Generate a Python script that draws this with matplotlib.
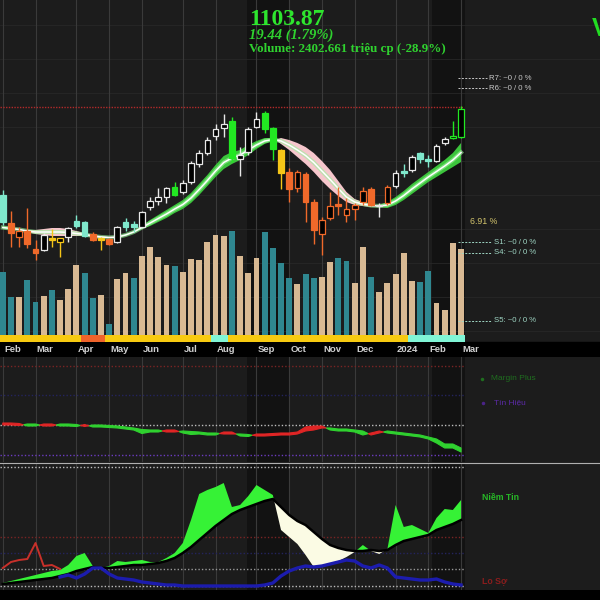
import numpy as np
import matplotlib.pyplot as plt
from matplotlib.patches import Rectangle
from matplotlib.transforms import blended_transform_factory

plt.rcParams['font.family'] = ['Liberation Sans', 'DejaVu Sans']

BG = '#1c1c1c'

# weekly bars Feb 2023 -> Mar 2024
open_p = [1018, 990, 976, 982, 964, 963, 975, 971, 976, 992,
          991, 979, 975, 974, 971, 991, 989, 986, 1006, 1012,
          1016, 1026, 1021, 1031, 1049, 1060, 1077, 1085, 1092, 1054,
          1061, 1086, 1100, 1085, 1063, 1041, 1025, 1039, 1011, 979,
          995, 1009, 998, 1004, 1011, 1024, 1007, 1010, 1027, 1042,
          1043, 1060, 1054, 1052, 1070, 1075, 1076]
high_p = [1023, 1002, 986, 1005, 973, 980, 984, 975, 986, 998,
          992, 981, 976, 975, 987, 995, 992, 1002, 1016, 1025,
          1026, 1031, 1033, 1052, 1063, 1076, 1089, 1099, 1096, 1066,
          1086, 1101, 1102, 1086, 1064, 1045, 1043, 1041, 1014, 996,
          1021, 1026, 1015, 1010, 1026, 1026, 1010, 1028, 1043, 1049,
          1058, 1061, 1058, 1069, 1076, 1092, 1107]
low_p = [988, 966, 966, 965, 953, 962, 966, 956, 971, 985,
         976, 972, 963, 968, 970, 982, 981, 985, 1003, 1008,
         1010, 1017, 1019, 1029, 1046, 1058, 1073, 1076, 1051, 1037,
         1058, 1085, 1080, 1053, 1024, 1011, 1021, 991, 969, 958,
         993, 998, 991, 993, 1008, 1007, 996, 1008, 1025, 1036,
         1041, 1050, 1046, 1051, 1068, 1074, 1075]
close_p = [991, 980, 982, 969, 960, 978, 973, 975, 985, 987,
           977, 973, 973, 969, 986, 986, 986, 1001, 1012, 1016,
           1025, 1018, 1030, 1050, 1060, 1073, 1084, 1089, 1055, 1058,
           1084, 1094, 1084, 1064, 1040, 1024, 1041, 1011, 983, 993,
           1007, 1007, 1004, 1008, 1022, 1008, 1008, 1026, 1040, 1040,
           1056, 1054, 1052, 1067, 1074, 1077, 1103.87]
candle_state = ['A', 'O', 'HO', 'O', 'O', 'H', 'Y', 'HY', 'H', 'A',
                'A', 'O', 'Y', 'O', 'H', 'A', 'A', 'H', 'H', 'H',
                'H', 'G', 'H', 'H', 'H', 'H', 'H', 'H', 'G', 'H',
                'H', 'H', 'G', 'G', 'Y', 'O', 'HO', 'O', 'O', 'HO',
                'HO', 'O', 'HO', 'HO', 'HO', 'O', 'H', 'HO', 'H', 'A',
                'H', 'A', 'A', 'H', 'H', 'HG', 'HG']

fast_ma = [987, 986, 984, 981, 979, 978, 977, 977, 977, 977,
           977, 976, 975, 975, 977, 979, 982, 987, 993, 998,
           1003, 1008, 1013, 1020, 1029, 1038, 1048, 1057, 1061, 1063,
           1068, 1072, 1075, 1075, 1069, 1063, 1056, 1049, 1041, 1032,
           1024, 1017, 1011, 1008, 1007, 1006, 1008, 1011, 1016, 1022,
           1029, 1035, 1041, 1047, 1053, 1060, 1070]
slow_ma = [984, 983, 983, 983, 983, 984, 985, 985, 984, 982,
           980, 978, 977, 976, 975, 977, 980, 984, 987, 991,
           995, 1000, 1004, 1010, 1018, 1027, 1036, 1044, 1049, 1053,
           1058, 1064, 1069, 1072, 1075, 1073, 1070, 1066, 1060, 1052,
           1043, 1032, 1021, 1014, 1011, 1009, 1006, 1005, 1008, 1013,
           1019, 1025, 1031, 1036, 1041, 1046, 1051]

# volume, million shares
volume = [1764, 1064, 1064, 1540, 924, 1092, 1260, 980, 1288, 1960,
          1736, 1036, 1120, 308, 1568, 1736, 1596, 2212, 2464, 2184,
          1960, 1932, 1764, 2128, 2100, 2604, 2800, 2772, 2912, 2212,
          1736, 2156, 2884, 2436, 2016, 1596, 1428, 1708, 1596, 1624,
          2044, 2156, 2072, 1456, 2464, 1624, 1204, 1456, 1708, 2296,
          1512, 1484, 1792, 896, 700, 2576, 2402.661]
vol_side = list("TTNTTNTNNN" "TTNTNNTNNN" "NTNNNNNNTN"
                "NNTTTTNTTN" "NTTNNTNNNN" "NTTNNNN")
trend_band = list("YYYYYYYYYY" "OOOYYYYYYY" "YYYYYYAAYY"
                  "YYYYYYYYYY" "YYYYYYYYYY" "AAAAAAA")

month_bars = [0, 4, 9, 13, 17, 22, 26, 31, 35, 39, 43, 48, 52, 56]
month_labels = ['Feb', 'Mar', 'Apr', 'May', 'Jun', 'Jul', 'Aug', 'Sep',
                'Oct', 'Nov', 'Dec', '2024', 'Feb', 'Mar']

# middle panel
margin_plus = [37, 37, 36.5, 38, 38, 36, 36, 38, 38, 37.5,
               35.5, 37, 37, 36.5, 36, 35, 34, 32.5, 32, 32,
               30, 30, 31, 30.5, 30, 29, 29, 28, 28, 28,
               27.5, 26, 26, 26.5, 27, 27, 28, 31, 32, 34,
               34, 33, 33, 32, 31, 27, 29, 31, 30, 29,
               28, 27, 25, 23, 18, 18, 14]
signal = [39, 39, 38.5, 36, 36, 38, 38, 36, 36, 35.5,
          37.5, 35, 35, 34.5, 34, 33, 32, 28.5, 30, 30,
          32, 32, 29, 27.5, 28, 27, 27, 30, 30, 26,
          25.5, 28, 28, 28.5, 29, 29, 30, 35, 36, 36,
          32, 31, 31, 30, 27, 29, 31, 29, 28, 27,
          26, 25, 23, 19, 14, 14, 10]

# bottom panel
niem_tin = [7, 9, 11, 13, 15, 17, 19, 20, 25, 34,
            37, 24, 22, 24, 29, 28, 29, 30, 28, 28,
            32, 37, 47, 70, 96, 100, 103, 107, 83, 85,
            94, 105, 100, 95, 60, 53, 46, 35, 23, 24,
            26, 29, 33, 38, 45, 39, 36, 41, 85, 63,
            65, 61, 57, 72, 81, 80, 90]
niem_tin_avg = [6, 7, 8, 9, 10, 11, 12, 14, 16, 19,
                21, 23, 22, 22, 23, 24, 25, 25, 26, 27,
                29, 32, 37, 43, 50, 57, 64, 70, 76, 80,
                83, 86, 89, 91, 83, 75, 69, 65, 58, 51,
                45, 42, 40, 39, 39, 40, 39, 40, 45, 49,
                51, 53, 55, 60, 63, 66, 70]
blue_line = [13, 15, 12, 16, 22, 22, 16, 12, 11, 10,
             8, 7, 6, 5, 5, 4, 4, 4, 4, 4,
             4, 4, 4, 4, 4, 5, 7, 14, 19, 22,
             24, 23, 24, 26, 28, 30, 29, 24, 22, 25,
             22, 13, 12, 11, 10, 10, 11, 8, 6, 5]   # from bar 7
red_line = [22, 28, 30, 31, 47, 24, 25, 21]          # bars 0..7

bars = np.arange(len(close_p))
fast_ma = np.array(fast_ma, float)
slow_ma = np.array(slow_ma, float)
margin_plus = np.array(margin_plus, float)
signal = np.array(signal, float)
niem_tin = np.array(niem_tin, float)
niem_tin_avg = np.array(niem_tin_avg, float)

x_lo, x_hi = -0.34, 72.98

fig = plt.figure(figsize=(6, 6), dpi=100)
fig.patch.set_facecolor(BG)


def clean(ax):
    ax.set_facecolor(BG)
    ax.set_xticks([])
    ax.set_yticks([])
    for s in ax.spines.values():
        s.set_visible(False)
    ax.set_xlim(x_lo, x_hi)


ax_price = fig.add_axes([0, 258 / 600, 1, 342 / 600])
ax_vol = ax_price.twinx()
ax_mid = fig.add_axes([0, 138 / 600, 1, 105 / 600])
ax_bot = fig.add_axes([0, 10 / 600, 1, 127 / 600])
for ax in (ax_price, ax_vol, ax_mid, ax_bot):
    clean(ax)
ax_price.set_zorder(ax_vol.get_zorder() + 1)
ax_price.patch.set_visible(False)

ax_price.set_ylim(871, 1213)
ax_vol.set_ylim(-196, 9380)
ax_mid.set_ylim(0, 105)
ax_bot.set_ylim(0, 127)

# black strips
fig.add_artist(Rectangle((0, 243 / 600), 1, 15 / 600, transform=fig.transFigure,
                         color='black', zorder=-1))
fig.add_artist(Rectangle((0, 0), 1, 10 / 600, transform=fig.transFigure,
                         color='black', zorder=-1))

# grid + shaded weeks
for ax in (ax_vol, ax_mid, ax_bot):
    ax.axvspan(29.8, 35.1, color='#121212', zorder=0, lw=0)
    ax.axvspan(52.5, 56.5, color='#121212', zorder=0, lw=0)
    for b in month_bars:
        ax.axvline(b, color='#3a3a3a', lw=0.8, zorder=0.5)
for lvl in np.arange(8680, 0, -952):
    ax_vol.axhline(lvl, color='#272727', lw=0.6, zorder=0.4)

# volume + trend band
vol_colors = {'T': '#2f8790', 'N': '#d8b993'}
ax_vol.bar(bars, volume, width=0.72, color=[vol_colors[s] for s in vol_side], zorder=2)
band_colors = {'Y': '#f7ca10', 'O': '#f0632a', 'A': '#80f5d6'}
ax_vol.bar(bars, 400, bottom=-400, width=1.0,
           color=[band_colors[s] for s in trend_band], zorder=2)

# moving-average ribbon
ax_price.fill_between(bars, fast_ma, slow_ma, where=fast_ma >= slow_ma,
                      interpolate=True, color='#3cc43c', lw=0, zorder=1)
ax_price.fill_between(bars, fast_ma, slow_ma, where=fast_ma < slow_ma,
                      interpolate=True, color='#f6c6cc', lw=0, zorder=1)
ax_price.plot(bars, (fast_ma + slow_ma) / 2, color='#9af09a', lw=3, alpha=0.6, zorder=1.5)
ax_price.plot(bars, (fast_ma + slow_ma) / 2, color='white', lw=1.1, zorder=1.6)

# candles
styles = {
    'A': ('#7fe8cc', '#7fe8cc'),
    'O': ('#f0692a', '#f0692a'),
    'Y': ('#f5c518', '#f5c518'),
    'G': ('#22e822', '#22e822'),
    'H': ('#000000', '#e8e8e8'),
    'HO': ('#000000', '#f0692a'),
    'HY': ('#000000', '#f5c518'),
    'HG': ('#000000', '#22e822'),
}
for i in bars:
    face, edge = styles[candle_state[i]]
    ax_price.vlines(i, low_p[i], high_p[i], color=edge, lw=1.0, zorder=3)
    lo = min(open_p[i], close_p[i])
    h = max(abs(close_p[i] - open_p[i]), 1.2)
    ax_price.bar(i, h, bottom=lo, width=0.7, color=face, edgecolor=edge,
                 linewidth=0.9, zorder=4)

ax_price.hlines(1106, x_lo, 56.3, colors='#b22a2a', linestyles=(0, (1, 1)), lw=1.0, zorder=2)

# support / resistance labels
for name, lvl, col, x_end in [('R7', 1135, '#c8c8c8', 59.2), ('R6', 1125, '#c8c8c8', 59.2),
                              ('S1', 971, '#9fd6c4', 59.8), ('S4', 960, '#9fd6c4', 59.8),
                              ('S5', 892, '#9fd6c4', 59.8)]:
    ax_price.hlines(lvl, 55.6, x_end, colors=col, linestyles=(0, (2, 1.5)), lw=0.7)
    ax_price.text(x_end + 0.2, lvl, f'{name}: ~0 / 0 %', color=col, fontsize=5.6, va='center')
ax_price.text(58.8, 991, '6.91 %', color='#d3c46c', fontsize=6.3, ha='center', va='center')

# month labels
tr = blended_transform_factory(ax_price.transData, ax_price.transAxes)
for b, lab in zip(month_bars, month_labels):
    ax_price.text(b + 0.15, -0.021, lab, transform=tr, color='#d0d0d0', fontsize=6.8,
                  fontweight='bold', ha='left', va='center', clip_on=False)

# middle panel
for lvl, col in [(96, '#7a2424'), (67, '#24245e'), (37, '#bdbdbd'), (7, '#6b3cc0')]:
    ax_mid.hlines(lvl, x_lo, 56.4, colors=col, linestyles=(0, (1, 1.5)), lw=1.0, zorder=1)
ax_mid.fill_between(bars, margin_plus, signal, where=margin_plus >= signal,
                    interpolate=True, color='#2fd12f', edgecolor='#2fd12f', lw=0.8, zorder=2)
ax_mid.fill_between(bars, margin_plus, signal, where=margin_plus < signal,
                    interpolate=True, color='#e02525', edgecolor='#e02525', lw=0.8, zorder=2)
ax_mid.plot(58.6, 83, 'o', ms=1.5, color='#1f6e1f')
ax_mid.text(59.6, 83, 'Margin Plus', color='#1f6e1f', fontsize=6, va='center')
ax_mid.plot(58.7, 59, 'o', ms=1.5, color='#4a2388')
ax_mid.text(60.0, 59, 'Tín Hiệu', color='#5b2aa6', fontsize=6, va='center')

# bottom panel
for lvl, col in [(123, '#bdbdbd'), (53, '#7a2424'), (37, '#24245e'),
                 (21, '#9a9a9a'), (4, '#bdbdbd')]:
    ax_bot.hlines(lvl, x_lo, 56.4, colors=col, linestyles=(0, (1, 1.5)), lw=1.0, zorder=1)
ax_bot.fill_between(bars, niem_tin, niem_tin_avg, where=niem_tin >= niem_tin_avg,
                    interpolate=True, color='#36f236', lw=0, zorder=2)
ax_bot.fill_between(bars, niem_tin, niem_tin_avg, where=niem_tin < niem_tin_avg,
                    interpolate=True, color='#fbfbe4', lw=0, zorder=2)
ax_bot.plot(bars, niem_tin_avg, color='black', lw=1.8, zorder=3)
ax_bot.plot(bars[7:], blue_line, color='#1c1cae', lw=2.4, zorder=4)
ax_bot.plot(bars[:8], red_line, color='#c8302a', lw=1.4, zorder=4)
ax_bot.text(58.6, 93, 'Niềm Tin', color='#27b827', fontsize=6.3, fontweight='bold', va='center')
ax_bot.text(58.6, 9, 'Lo Sợ', color='#8a1c1c', fontsize=6.3, fontweight='bold', va='center')

# panel separator
fig.add_artist(plt.Line2D([0, 1], [137.5 / 600, 137.5 / 600], color='#b0b0b0', lw=0.8))

# header
serif = ['Liberation Serif', 'DejaVu Serif']
fig.text(249 / 600, 1 - 25 / 600, '1103.87', family=serif, fontweight='bold',
         fontsize=17, color='#2ee62e', va='baseline')
fig.text(249 / 600, 1 - 39 / 600, '19.44 (1.79%)', family=serif, fontweight='bold',
         style='italic', fontsize=10.5, color='#2fd12f', va='baseline')
fig.text(249 / 600, 1 - 52 / 600, 'Volume: 2402.661 triệu cp (-28.9%)', family=serif,
         fontweight='bold', fontsize=9.4, color='#2fd12f', va='baseline')
fig.text(592 / 600, 1 - 36 / 600, 'VNINDEX', fontsize=18, fontweight='bold',
         color='#22dd22', va='baseline')

fig.savefig('out.png', dpi=100, facecolor=fig.get_facecolor())
